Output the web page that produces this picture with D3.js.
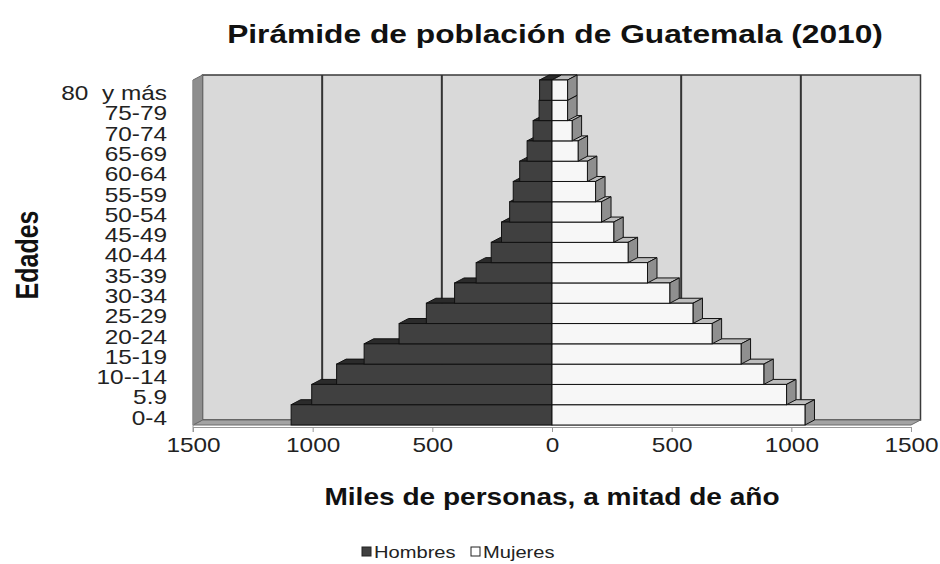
<!DOCTYPE html>
<html><head><meta charset="utf-8">
<script src="https://cdn.jsdelivr.net/npm/d3@7"></script>
<style>
html,body{margin:0;padding:0;background:#fff;}
svg{display:block;font-family:"Liberation Sans",Arial,sans-serif;}
</style></head>
<body>
<svg id="chart" width="940" height="564"></svg>
<script>
const categories = ["0-4","5.9","10--14","15-19","20-24","25-29","30-34","35-39","40-44","45-49","50-54","55-59","60-64","65-69","70-74","75-79","80  y más"];
const hombres = [1090,1004,900,785,639,525,407,317,254,211,177,162,135,104,79,54,52];
const mujeres = [1057,980,885,790,669,589,492,399,318,258,207,182,148,109,84,65,65];
const xTicks = [-1500,-1000,-500,0,500,1000,1500];
const gridValues = [-1000,-500,0,500,1000];
const seriesNames = ["Hombres","Mujeres"];
const title = "Pirámide de población de Guatemala (2010)";
const xTitle = "Miles de personas, a mitad de año";
const yTitle = "Edades";

const SX = 1.22;           // horizontal stretch of the reference's text
const DX = 9.5, DY = -5;   // 3D depth offset
const svg = d3.select("#chart");

const x = d3.scaleLinear().domain([-1500,1500]).range([193,911]);
const y = d3.scaleBand().domain(categories).range([425,80]).padding(0);
const yTop = 80, yBot = 425;

// back wall
svg.append("rect")
  .attr("x", x(-1500)+DX).attr("y", yTop+DY)
  .attr("width", x(1500)-x(-1500)).attr("height", yBot-yTop)
  .attr("fill","#d9d9d9").attr("stroke","#3a3a3a").attr("stroke-width",1.5);
// floor
svg.append("polygon")
  .attr("points", [[x(-1500),yBot],[x(1500),yBot],[x(1500)+DX,yBot+DY],[x(-1500)+DX,yBot+DY]].map(p=>p.join(",")).join(" "))
  .attr("fill","#a3a3a3").attr("stroke","#6a6a6a").attr("stroke-width",1);
// left wall
svg.append("polygon")
  .attr("points", [[x(-1500),yTop],[x(-1500)+DX,yTop+DY],[x(-1500)+DX,yBot+DY],[x(-1500),yBot]].map(p=>p.join(",")).join(" "))
  .attr("fill","#8e8e8e").attr("stroke","#6a6a6a").attr("stroke-width",1);
// gridlines
svg.append("g").selectAll("line").data(gridValues).join("line")
  .attr("x1", d=>x(d)+DX).attr("x2", d=>x(d)+DX)
  .attr("y1", yTop+DY).attr("y2", yBot+DY)
  .attr("stroke","#333").attr("stroke-width",2);

// bars, bottom row first
const rows = categories.map((c,i)=>({c, h:hombres[i], m:mujeres[i]}));
const pts = a => a.map(p=>p.join(",")).join(" ");
const rg = svg.append("g").selectAll("g").data(rows).join("g");
rg.each(function(d){
  const g = d3.select(this);
  const y0 = y(d.c), y1 = y0 + y.bandwidth();
  const xl = x(-d.h), x0 = x(0), xr = x(d.m);
  g.append("polygon").attr("points", pts([[xl,y0],[x0,y0],[x0+DX,y0+DY],[xl+DX,y0+DY]]))
    .attr("fill","#2b2b2b").attr("stroke","#111").attr("stroke-width",1);
  g.append("rect").attr("x",xl).attr("y",y0).attr("width",x0-xl).attr("height",y1-y0)
    .attr("fill","#404040").attr("stroke","#111").attr("stroke-width",1);
  g.append("polygon").attr("points", pts([[x0,y0],[xr,y0],[xr+DX,y0+DY],[x0+DX,y0+DY]]))
    .attr("fill","#bdbdbd").attr("stroke","#111").attr("stroke-width",1);
  g.append("polygon").attr("points", pts([[xr,y0],[xr+DX,y0+DY],[xr+DX,y1+DY],[xr,y1]]))
    .attr("fill","#8f8f8f").attr("stroke","#111").attr("stroke-width",1);
  g.append("rect").attr("x",x0).attr("y",y0).attr("width",xr-x0).attr("height",y1-y0)
    .attr("fill","#f7f7f7").attr("stroke","#111").attr("stroke-width",1);
});

// x axis
const xa = svg.append("g").attr("transform","translate(0,427)")
  .call(d3.axisBottom(x).tickValues(xTicks).tickSize(5).tickPadding(6).tickFormat(d=>Math.abs(d)));
xa.select(".domain").attr("stroke","#999");
xa.selectAll(".tick line").attr("stroke","#999");
xa.selectAll(".tick text").attr("font-size",20).attr("fill","#222")
  .attr("font-family",'"Liberation Sans",Arial,sans-serif')
  .attr("transform",`scale(${SX},1)`);

// y axis
const ya = svg.append("g").attr("transform",`translate(${x(-1500)},0)`)
  .call(d3.axisLeft(y).tickSize(0).tickPadding(26/SX));
ya.select(".domain").attr("stroke","#999").attr("d",`M0,${yTop}V432`);
ya.selectAll(".tick text").attr("font-size",20).attr("fill","#222")
  .attr("font-family",'"Liberation Sans",Arial,sans-serif')
  .style("white-space","pre")
  .attr("y",3.5)
  .attr("transform",`scale(${SX},1)`);

// titles
function stext(xp, yp, txt, size, weight, anchor){
  return svg.append("text").attr("transform",`translate(${xp},${yp}) scale(${SX},1)`)
    .attr("text-anchor",anchor||"middle").attr("font-size",size).attr("font-weight",weight||"normal")
    .attr("fill","#111").style("white-space","pre").text(txt);
}
stext(555, 43, title, 26, "bold");
stext(552, 505, xTitle, 23, "bold");
svg.append("text").attr("transform",`translate(38,255) scale(${SX},1) rotate(-90)`)
  .attr("text-anchor","middle").attr("font-size",25).attr("font-weight","bold").attr("fill","#111").text(yTitle);

// legend
const legendX = [362, 471];
const legendFill = ["#404040","#ffffff"];
seriesNames.forEach((n,i)=>{
  svg.append("rect").attr("x",legendX[i]).attr("y",547).attr("width",9).attr("height",9)
    .attr("fill",legendFill[i]).attr("stroke","#222").attr("stroke-width",1);
  stext(legendX[i]+12, 558, n, 16.5, "normal", "start").attr("fill","#222");
});
</script>
</body></html>
